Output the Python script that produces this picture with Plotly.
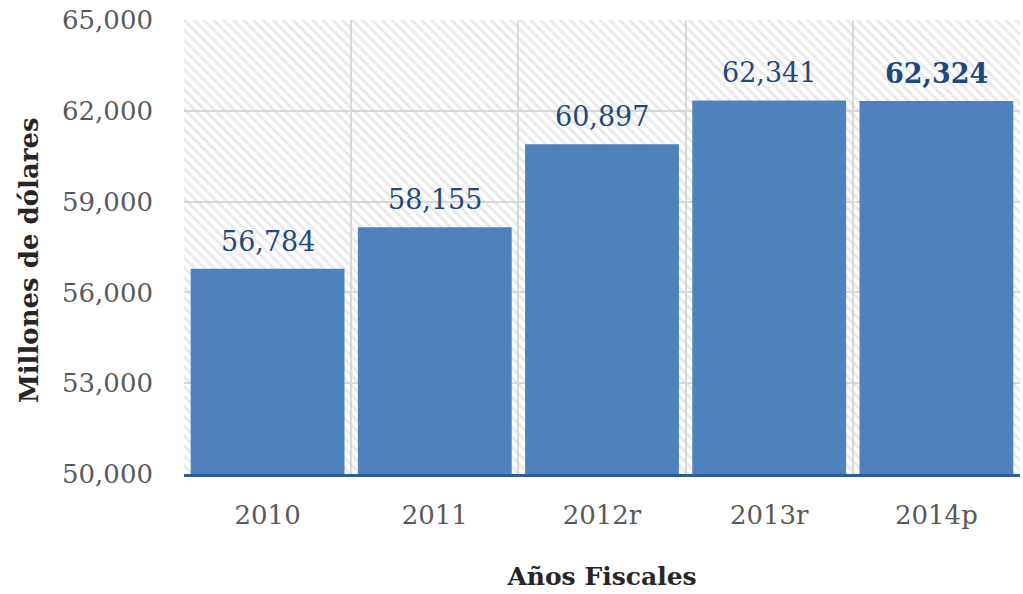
import plotly.graph_objects as go

categories = ["2010", "2011", "2012r", "2013r", "2014p"]
values = [56784, 58155, 60897, 62341, 62324]
bold_last = [False, False, False, False, True]
y_ticks = [50000, 53000, 56000, 59000, 62000, 65000]
y_min, y_max = 50000, 65000

FONT = "DejaVu Serif"

labels = [("<b>{:,}</b>" if b else "{:,}").format(v) for v, b in zip(values, bold_last)]

fig = go.Figure()

# hatched plot background (a single transparent bar spanning the plot)
fig.add_trace(go.Bar(
    x=[0.5], y=[y_max - y_min], base=[y_min], width=[1],
    xaxis="x", yaxis="y",
    marker=dict(color="rgba(0,0,0,0)", line=dict(width=0),
                pattern=dict(shape="\\", fgcolor="#d4d4d4", bgcolor="rgba(0,0,0,0)",
                             size=7, solidity=0.4)),
    hoverinfo="skip", showlegend=False,
))

fig.add_trace(go.Bar(
    x=categories, y=values, xaxis="x2", yaxis="y",
    marker=dict(color="#4f81bd", line=dict(width=0)),
    showlegend=False, hoverinfo="x+y",
))

annotations = [
    dict(x=i, y=v, xref="x2", yref="y", text=t, showarrow=False,
         yanchor="bottom", yshift=10,
         font=dict(family=FONT, size=27, color="#1f497d"))
    for i, (v, t) in enumerate(zip(values, labels))
]
annotations.append(dict(
    text="<b>Millones de dólares</b>", xref="paper", yref="paper",
    x=-0.186, y=0.47, xanchor="center", yanchor="middle", textangle=-90,
    showarrow=False, font=dict(family=FONT, size=26, color="#262626"),
))

fig.update_layout(
    width=1023, height=594,
    margin=dict(l=184, r=3, t=20, b=120),
    paper_bgcolor="white", plot_bgcolor="white",
    bargap=0.08,
    font=dict(family=FONT),
    annotations=annotations,
    xaxis=dict(range=[0, 1], visible=False, fixedrange=True),
    xaxis2=dict(
        overlaying="x", side="bottom", type="category", automargin=False,
        range=[-0.5, len(categories) - 0.5],
        tickson="boundaries", showgrid=True, gridcolor="#d9d9d9", gridwidth=2,
        showline=True, linecolor="#2e5c94", linewidth=2.5,
        ticks="", ticklabelstandoff=16,
        tickfont=dict(family=FONT, size=26, color="#595959"),
        title=dict(text="<b>Años Fiscales</b>", font=dict(family=FONT, size=25, color="#262626"),
                   standoff=39),
    ),
    yaxis=dict(
        range=[y_min, y_max], tickvals=y_ticks, automargin=False,
        ticktext=["{:,}".format(t) for t in y_ticks],
        showgrid=True, gridcolor="#d9d9d9", gridwidth=2,
        zeroline=False, showline=False, ticks="", ticklabelstandoff=30,
        tickfont=dict(family=FONT, size=26, color="#595959"),
    ),
)

fig.write_html("out.html", config={"displayModeBar": False},
               post_script="document.body.style.margin='0';")
